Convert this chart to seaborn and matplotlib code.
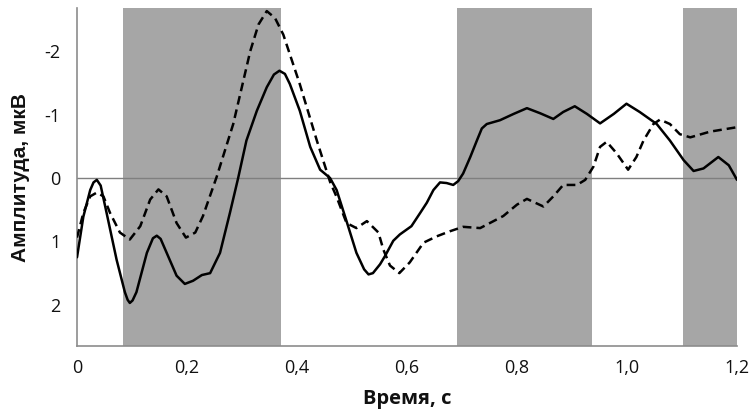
import numpy as np
import pandas as pd
import matplotlib
matplotlib.use("Agg")
import matplotlib.pyplot as plt
import seaborn as sns

# solid curve (time, amplitude)
solid_t = [0.0, 0.0115, 0.024, 0.03, 0.036, 0.043, 0.054, 0.072, 0.087, 0.092,
           0.096, 0.101, 0.108, 0.127, 0.138, 0.145, 0.152, 0.163, 0.181, 0.196,
           0.211, 0.227, 0.242, 0.26, 0.278, 0.293, 0.308, 0.327, 0.345, 0.358,
           0.368, 0.378, 0.387, 0.405, 0.424, 0.442, 0.46, 0.472, 0.49, 0.508,
           0.522, 0.53, 0.538, 0.551, 0.56, 0.575, 0.587, 0.608, 0.624, 0.636,
           0.648, 0.66, 0.672, 0.684, 0.693, 0.702, 0.715, 0.727, 0.736, 0.745,
           0.769, 0.794, 0.818, 0.842, 0.866, 0.884, 0.905, 0.927, 0.951, 0.976,
           0.999, 1.023, 1.054, 1.078, 1.103, 1.121, 1.139, 1.166, 1.185, 1.2]
solid_a = [1.25, 0.61, 0.19, 0.07, 0.03, 0.12, 0.56, 1.29, 1.8, 1.92,
           1.97, 1.93, 1.8, 1.18, 0.95, 0.91, 0.96, 1.18, 1.54, 1.67,
           1.62, 1.53, 1.5, 1.18, 0.55, 0.0, -0.59, -1.06, -1.43, -1.63,
           -1.69, -1.64, -1.48, -1.06, -0.49, -0.13, 0.0, 0.19, 0.68, 1.18,
           1.44, 1.52, 1.5, 1.36, 1.23, 0.99, 0.89, 0.76, 0.55, 0.39,
           0.19, 0.07, 0.08, 0.11, 0.05, -0.07, -0.33, -0.59, -0.78, -0.85,
           -0.91, -1.01, -1.10, -1.02, -0.93, -1.04, -1.13, -1.01, -0.86, -1.01,
           -1.17, -1.04, -0.85, -0.59, -0.28, -0.11, -0.15, -0.33, -0.2, 0.03]

# dashed curve
dash_t = [0.0, 0.0115, 0.024, 0.036, 0.048, 0.06, 0.078, 0.096, 0.115, 0.133,
          0.148, 0.163, 0.181, 0.198, 0.215, 0.229, 0.254, 0.284, 0.315, 0.33,
          0.345, 0.36, 0.375, 0.405, 0.436, 0.46, 0.472, 0.49, 0.508, 0.527,
          0.548, 0.557, 0.569, 0.586, 0.605, 0.63, 0.654, 0.678, 0.702, 0.733,
          0.775, 0.8, 0.818, 0.848, 0.866, 0.884, 0.909, 0.924, 0.939, 0.951,
          0.963, 0.981, 1.002, 1.017, 1.03, 1.048, 1.06, 1.078, 1.096, 1.115,
          1.151, 1.2]
dash_a = [0.94, 0.55, 0.29, 0.23, 0.29, 0.55, 0.86, 0.97, 0.76, 0.34,
          0.18, 0.29, 0.71, 0.94, 0.86, 0.6, -0.02, -0.85, -2.0, -2.42,
          -2.63, -2.52, -2.26, -1.48, -0.59, 0.06, 0.3, 0.71, 0.79, 0.68,
          0.86, 1.13, 1.38, 1.5, 1.33, 1.02, 0.92, 0.84, 0.77, 0.79,
          0.6, 0.42, 0.33, 0.45, 0.29, 0.11, 0.11, 0.03, -0.18, -0.49,
          -0.57, -0.39, -0.13, -0.33, -0.59, -0.85, -0.92, -0.85, -0.69, -0.64,
          -0.73, -0.8]

# shaded time windows
band_start = [0.0836, 0.691, 1.102]
band_end = [0.371, 0.936, 1.2]

xticks = [0, 0.2, 0.4, 0.6, 0.8, 1.0, 1.2]
xtick_labels = ["0", "0,2", "0,4", "0,6", "0,8", "1,0", "1,2"]
yticks = [-2, -1, 0, 1, 2]
ytick_labels = ["-2", "-1", "0", "1", "2"]

sns.set_style("white")
plt.rcParams['font.family'] = ['Open Sans', 'DejaVu Sans']

fig = plt.figure(figsize=(7.5, 4.16), dpi=100)
ax = fig.add_axes([0.1027, 0.168, 0.88, 0.813])

for s, e in zip(band_start, band_end):
    ax.axvspan(s, e, color="#a6a6a6", lw=0, zorder=0)

ax.axhline(0, color="#7f7f7f", lw=1.0, zorder=1)

df_solid = pd.DataFrame({"t": solid_t, "a": solid_a})
df_dash = pd.DataFrame({"t": dash_t, "a": dash_a})
sns.lineplot(data=df_solid, x="t", y="a", ax=ax, color="black", lw=1.8, sort=False, zorder=3)
sns.lineplot(data=df_dash, x="t", y="a", ax=ax, color="black", lw=1.8, sort=False,
             dashes=False, linestyle=(0, (3.5, 2.0)), zorder=3)

ax.set_xlim(0, 1.2)
ax.set_ylim(2.65, -2.68)
ax.set_xticks(xticks)
ax.set_xticklabels(xtick_labels, fontsize=13, color="#111111")
ax.set_yticks(yticks)
ax.set_yticklabels(ytick_labels, fontsize=13, color="#111111")

for side in ["top", "right"]:
    ax.spines[side].set_visible(False)
for side in ["left", "bottom"]:
    ax.spines[side].set_color("#8c8c8c")
    ax.spines[side].set_linewidth(1.2)

ax.tick_params(axis="x", direction="out", length=3, color="#8c8c8c", pad=6)
ax.tick_params(axis="y", direction="inout", length=4, color="#8c8c8c", pad=10)

ax.set_xlabel("Время, с", fontsize=14.5, fontweight="bold", color="#111111", labelpad=9)
ax.set_ylabel("Амплитуда, мкВ", fontsize=15, fontweight="bold", color="#111111",
              family=["Liberation Sans", "DejaVu Sans"], labelpad=10)

fig.savefig("out.png", dpi=100)
